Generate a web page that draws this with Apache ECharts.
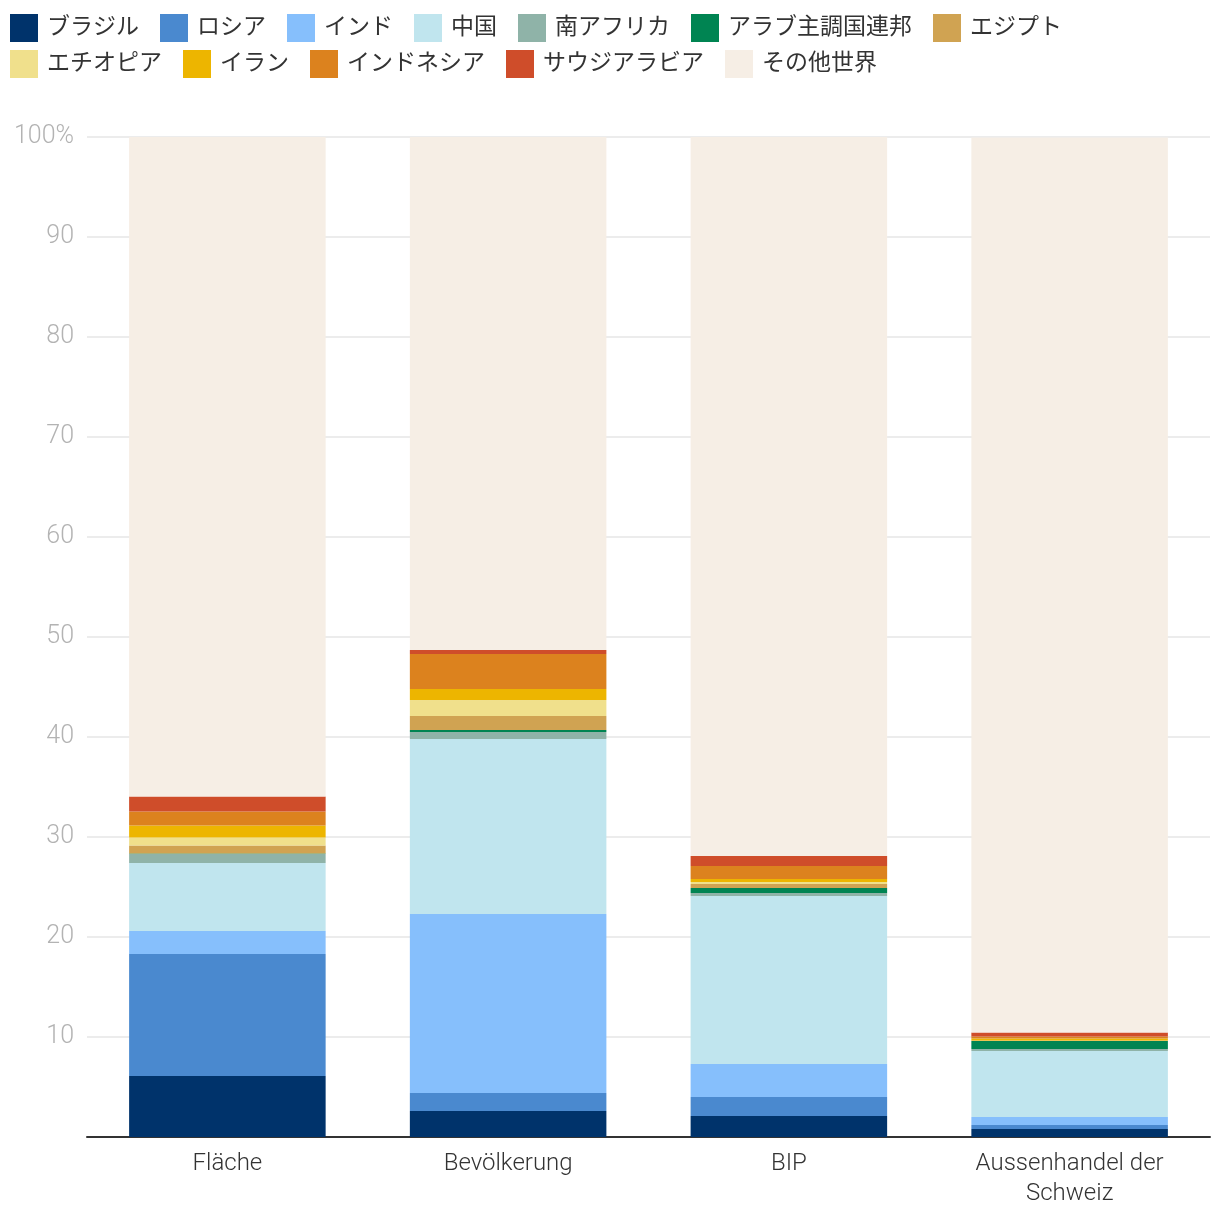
<!DOCTYPE html>
<html>
<head>
<meta charset="utf-8">
<script src="https://cdn.jsdelivr.net/npm/echarts@6/dist/echarts.min.js"></script>
<style>
  html, body { margin: 0; padding: 0; background: #fff; }
  #main { width: 1220px; height: 1224px; }
</style>
</head>
<body>
<div id="main"></div>
<script>
// カテゴリ
var categories = ['Fläche', 'Bevölkerung', 'BIP', 'Aussenhandel der\nSchweiz'];
var names = ['ブラジル', 'ロシア', 'インド', '中国', '南アフリカ', 'アラブ主調国連邦', 'エジプト',
             'エチオピア', 'イラン', 'インドネシア', 'サウジアラビア', 'その他世界'];
var colors = ['#00336b', '#4a89cf', '#86bffc', '#c0e5ee', '#8fb3a8', '#008452', '#d0a352',
              '#f0e08c', '#edb500', '#dc821e', '#cf4d2a', '#f6eee5'];

// 各国の割合 (%)
var brazil    = [6.1, 2.6, 2.1, 0.8];
var russia    = [12.2, 1.8, 1.9, 0.4];
var india     = [2.3, 17.9, 3.3, 0.8];
var china     = [6.8, 17.5, 16.8, 6.6];
var southAfr  = [0.9, 0.7, 0.3, 0.2];
var uae       = [0.06, 0.2, 0.5, 0.8];
var egypt     = [0.8, 1.4, 0.4, 0.05];
var ethiopia  = [0.8, 1.6, 0.2, 0.01];
var iran      = [1.2, 1.1, 0.3, 0.2];
var indonesia = [1.4, 3.5, 1.3, 0.2];
var saudi     = [1.5, 0.4, 1.0, 0.4];
var rest      = [66.0, 51.3, 71.9, 89.5];

var yTicks = [0, 10, 20, 30, 40, 50, 60, 70, 80, 90, 100];

var values = [brazil, russia, india, china, southAfr, uae, egypt, ethiopia, iran, indonesia, saudi, rest];

var font = 'Roboto, "Noto Sans CJK JP", sans-serif';

var series = [];
for (var i = 0; i < names.length; i++) {
    series.push({
        name: names[i],
        type: 'bar',
        stack: 'total',
        barWidth: '70%',
        itemStyle: { color: colors[i] },
        emphasis: { disabled: true },
        data: values[i]
    });
}

// 凡例は2行に分ける
function legendOf(list, top) {
    return {
        data: list,
        left: 10,
        top: top,
        padding: 0,
        icon: 'rect',
        itemWidth: 28,
        itemHeight: 28,
        itemGap: 21,
        selectedMode: false,
        textStyle: { fontSize: 23, color: '#333', fontFamily: font, padding: [0, 0, 0, 4] }
    };
}

var myChart = echarts.init(document.getElementById('main'));
var option = {
    animation: false,
    color: colors,
    legend: [
        legendOf(names.slice(0, 7), 14),
        legendOf(names.slice(7), 50)
    ],
    grid: {
        left: 87,
        right: 10,
        top: 137,
        bottom: 87
    },
    xAxis: {
        type: 'category',
        data: categories,
        axisLine: { lineStyle: { color: '#333', width: 2 } },
        axisTick: { show: false },
        axisLabel: {
            fontSize: 24,
            fontWeight: 300,
            color: '#333',
            fontFamily: font,
            margin: 12,
            lineHeight: 30
        }
    },
    yAxis: {
        type: 'value',
        min: yTicks[0],
        max: yTicks[yTicks.length - 1],
        interval: 10,
        axisLine: { show: false },
        axisTick: { show: false },
        splitLine: { lineStyle: { color: '#e6e6e6', width: 1.5 } },
        axisLabel: {
            fontSize: 25,
            fontWeight: 300,
            color: '#b3b3b3',
            fontFamily: font,
            margin: 13,
            formatter: function (v) {
                if (v === 0) return '';
                if (v === 100) return '100%';
                return v;
            }
        }
    },
    series: series
};
myChart.setOption(option);
</script>
</body>
</html>
